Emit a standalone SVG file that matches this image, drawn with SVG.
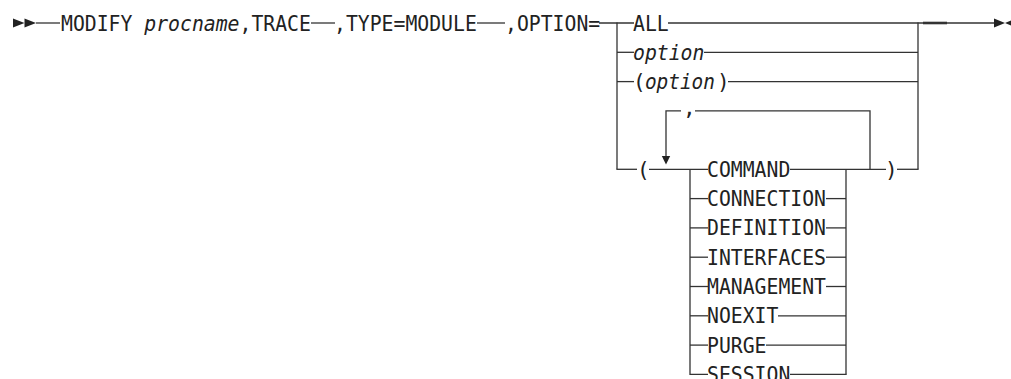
<svg xmlns="http://www.w3.org/2000/svg" width="1011" height="379" viewBox="0 0 1011 379">
<style>
text{font-family:"DejaVu Sans Mono","Liberation Mono",monospace;font-size:21px;fill:#222}
.i{font-style:italic}
.c line,.c path{stroke:#333;stroke-width:1.3;fill:none}
.a{fill:#222}
</style>
<rect width="1011" height="379" fill="#fff"/>
<g id="start">
<polygon class="a" points="13,18.5 24.5,23 13,27.5"/>
<polygon class="a" points="24.5,18.5 36,23 24.5,27.5"/>
</g>
<g id="modify"><text x="61" y="30.5" textLength="249.9" lengthAdjust="spacingAndGlyphs">MODIFY <tspan class="i">procname</tspan>,TRACE</text></g>
<g id="type"><text x="334" y="30.5" textLength="142.8" lengthAdjust="spacingAndGlyphs">,TYPE=MODULE</text></g>
<g id="option-kw"><text x="505" y="30.5" textLength="95.2" lengthAdjust="spacingAndGlyphs">,OPTION=</text></g>
<g id="all"><text x="633" y="30.5" textLength="35.7" lengthAdjust="spacingAndGlyphs">ALL</text></g>
<g id="opt"><text x="633" y="59.8" class="i" textLength="71.4" lengthAdjust="spacingAndGlyphs">option</text></g>
<g id="popt"><text x="633" y="89.1">(</text><text x="644.9" y="89.1" class="i" textLength="70" lengthAdjust="spacingAndGlyphs">option</text><text x="717" y="89.1">)</text></g>
<g id="lparen"><text x="637" y="176.8">(</text></g>
<g id="rparen"><text x="885" y="176.8">)</text></g>
<g id="sep"><text x="683" y="115">,</text></g>
<g id="command"><text x="707" y="176.8" textLength="83.3" lengthAdjust="spacingAndGlyphs">COMMAND</text></g>
<g id="connection"><text x="707" y="206.1" textLength="119" lengthAdjust="spacingAndGlyphs">CONNECTION</text></g>
<g id="definition"><text x="707" y="235.4" textLength="119" lengthAdjust="spacingAndGlyphs">DEFINITION</text></g>
<g id="interfaces"><text x="707" y="264.7" textLength="119" lengthAdjust="spacingAndGlyphs">INTERFACES</text></g>
<g id="management"><text x="707" y="294" textLength="119" lengthAdjust="spacingAndGlyphs">MANAGEMENT</text></g>
<g id="noexit"><text x="707" y="323.3" textLength="71.4" lengthAdjust="spacingAndGlyphs">NOEXIT</text></g>
<g id="purge"><text x="707" y="352.6" textLength="59.5" lengthAdjust="spacingAndGlyphs">PURGE</text></g>
<g id="session"><text x="707" y="381.9" textLength="83.3" lengthAdjust="spacingAndGlyphs">SESSION</text></g>
<g id="end">
<polygon class="a" points="994,18.5 1005,23 994,27.5"/>
<polygon class="a" points="1016,18.5 1005,23 1016,27.5"/>
</g>
<g class="c" id="connectors">
<line x1="36" y1="23" x2="60" y2="23"/>
<line x1="311" y1="23" x2="335" y2="23"/>
<line x1="477" y1="23" x2="505" y2="23"/>
<line x1="599" y1="23" x2="634" y2="23"/>
<line x1="668" y1="23" x2="994" y2="23"/>
<line x1="923" y1="23" x2="947" y2="23" style="stroke-width:2.6"/>
<line x1="617" y1="22.4" x2="617" y2="169.3"/>
<line x1="918" y1="22.4" x2="918" y2="169.3"/>
<line x1="617" y1="52.3" x2="634" y2="52.3"/>
<line x1="704" y1="52.3" x2="918" y2="52.3"/>
<line x1="617" y1="81.6" x2="634" y2="81.6"/>
<line x1="728" y1="81.6" x2="918" y2="81.6"/>
<line x1="616.4" y1="169.3" x2="637" y2="169.3"/>
<line x1="649" y1="169.3" x2="708" y2="169.3"/>
<line x1="790" y1="169.3" x2="886" y2="169.3"/>
<line x1="897" y1="169.3" x2="918.6" y2="169.3"/>
<path d="M870,169.3 V110.9 H695 M681,110.9 H666 V157"/>
<polygon class="a" points="661.8,156 670.2,156 666,164.5"/>
<path d="M690,169.3 V374.4 H708"/>
<path d="M846,169.3 V374.4"/>
<line x1="690" y1="198.6" x2="708" y2="198.6"/>
<line x1="690" y1="227.9" x2="708" y2="227.9"/>
<line x1="690" y1="257.2" x2="708" y2="257.2"/>
<line x1="690" y1="286.5" x2="708" y2="286.5"/>
<line x1="690" y1="315.8" x2="708" y2="315.8"/>
<line x1="690" y1="345.1" x2="708" y2="345.1"/>
<line x1="826" y1="198.6" x2="846" y2="198.6"/>
<line x1="826" y1="227.9" x2="846" y2="227.9"/>
<line x1="826" y1="257.2" x2="846" y2="257.2"/>
<line x1="826" y1="286.5" x2="846" y2="286.5"/>
<line x1="778" y1="315.8" x2="846" y2="315.8"/>
<line x1="766" y1="345.1" x2="846" y2="345.1"/>
<line x1="790" y1="374.4" x2="846.6" y2="374.4"/>
</g>
</svg>
